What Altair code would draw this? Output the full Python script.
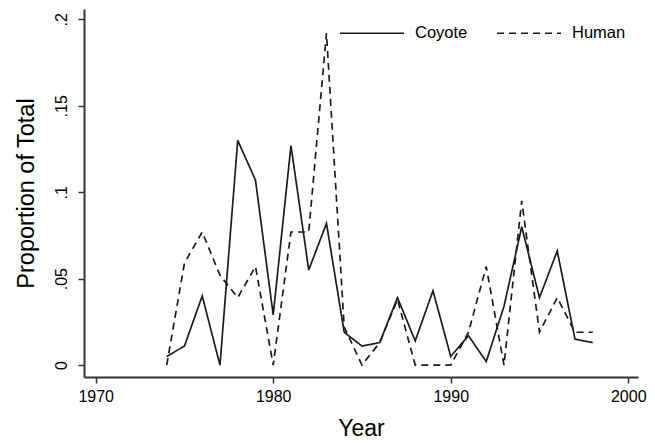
import altair as alt
import pandas as pd

years = list(range(1974, 1999))
coyote = [0.005, 0.011, 0.040, 0.000, 0.130, 0.107, 0.029, 0.127, 0.055, 0.082,
          0.019, 0.011, 0.013, 0.039, 0.014, 0.043, 0.005, 0.017, 0.002, 0.034,
          0.080, 0.039, 0.066, 0.015, 0.013]
human = [0.000, 0.059, 0.077, 0.052, 0.039, 0.057, 0.000, 0.077, 0.077, 0.192,
         0.022, 0.000, 0.013, 0.038, 0.000, 0.000, 0.000, 0.019, 0.057, 0.000,
         0.095, 0.019, 0.039, 0.019, 0.019]
series = ["Coyote", "Human"]
x_ticks = [1970, 1980, 1990, 2000]
y_ticks = [0, 0.05, 0.1, 0.15, 0.2]

df = pd.concat([
    pd.DataFrame({"Year": years, "value": coyote, "series": "Coyote"}),
    pd.DataFrame({"Year": years, "value": human, "series": "Human"}),
])

FONT = "Liberation Sans"

chart = alt.Chart(df).mark_line(color="#1c1c1c", strokeWidth=1.7).encode(
    x=alt.X("Year:Q",
            scale=alt.Scale(domain=[1969.34, 2000.55], nice=False, zero=False),
            axis=alt.Axis(values=x_ticks, format="d", grid=False, title="Year",
                          labelFontSize=16, labelFont=FONT, labelColor="#000",
                          tickSize=6, labelPadding=5, tickColor="#333", tickWidth=1.5,
                          domainColor="#333", domainWidth=2,
                          titleFont=FONT, titleFontSize=23, titleFontWeight="normal",
                          titleColor="#000", titleX=277, titleY=58,
                          titleBaseline="alphabetic", titleAlign="center")),
    y=alt.Y("value:Q",
            scale=alt.Scale(domain=[-0.0069, 0.206], nice=False, zero=False),
            axis=alt.Axis(values=y_ticks, grid=False, title="Proportion of Total",
                          labelExpr="replace(format(datum.value, '.2~f'), '0.', '.')",
                          labelAngle=270, labelAlign="center", labelBaseline="alphabetic",
                          labelFontSize=16, labelFont=FONT, labelColor="#000",
                          tickSize=6, labelPadding=12, tickColor="#333", tickWidth=1.5,
                          domainColor="#333", domainWidth=2,
                          titleFont=FONT, titleFontSize=23.5, titleFontWeight="normal",
                          titleColor="#000", titleX=-51, titleY=184, titleAngle=270,
                          titleBaseline="alphabetic", titleAlign="center")),
    strokeDash=alt.StrokeDash("series:N",
                              scale=alt.Scale(domain=series, range=[[1, 0], [7, 5]]),
                              legend=alt.Legend(title=None, orient="none", direction="horizontal",
                                                legendX=255, legendY=-9, padding=0,
                                                symbolType="stroke", symbolSize=4096,
                                                symbolStrokeWidth=1.7, symbolStrokeColor="#1c1c1c",
                                                labelFont=FONT, labelFontSize=16.5, labelColor="#000",
                                                labelOffset=10, columnPadding=25)),
    detail="series:N",
).properties(
    width=554, height=368,
    autosize=alt.AutoSizeParams(type="none"),
    padding={"left": 76, "top": 1, "right": 9, "bottom": 62},
).configure_view(stroke=None)

chart.save("out.html", embed_options={"renderer": "svg", "actions": False})
